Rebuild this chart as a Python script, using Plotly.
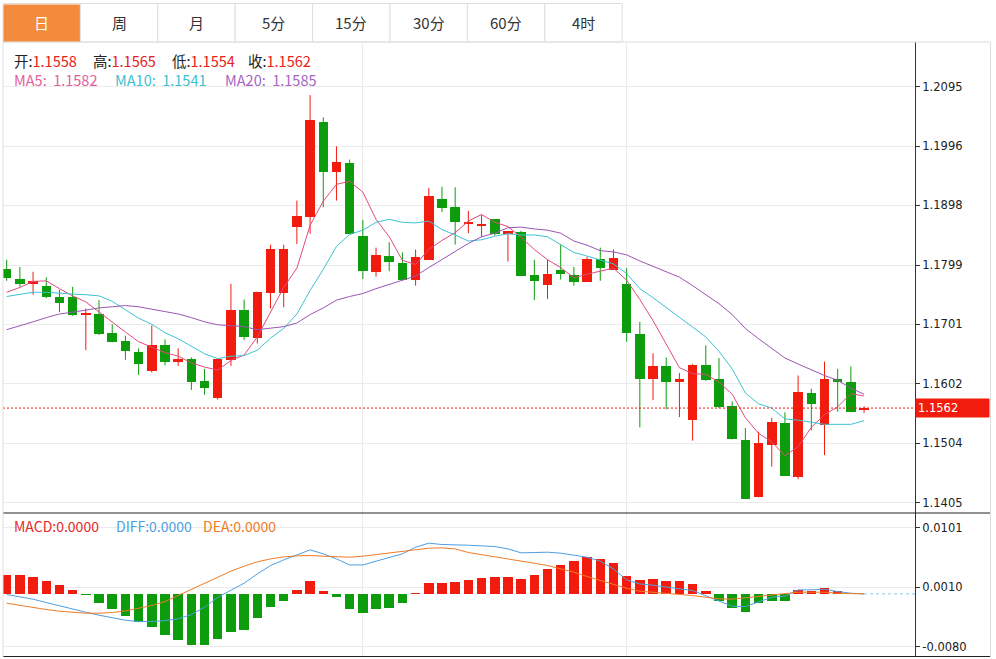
import plotly.graph_objects as go

# ---------------- data ----------------
tabs = ["日", "周", "月", "5分", "15分", "30分", "60分", "4时"]
active_tab = 0

opens = [1.1792, 1.1776, 1.1767, 1.1765, 1.1746, 1.1746, 1.1716, 1.1718, 1.1687, 1.1673,
         1.1655, 1.1623, 1.1666, 1.1638, 1.1643, 1.1607, 1.1579, 1.1642, 1.1724, 1.1679,
         1.1752, 1.1752, 1.1862, 1.1878, 1.2036, 1.1953, 1.1968, 1.1848, 1.1788, 1.1814,
         1.1802, 1.1775, 1.1808, 1.1909, 1.1895, 1.1868, 1.1864, 1.1875, 1.1850, 1.1854,
         1.1782, 1.1766, 1.1791, 1.1782, 1.1771, 1.1809, 1.1791, 1.1768, 1.1684, 1.1611,
         1.1632, 1.1606, 1.1543, 1.1634, 1.1610, 1.1566, 1.1509, 1.1415, 1.1501, 1.1538,
         1.1448, 1.1587, 1.1534, 1.1610, 1.1606, 1.1558]
highs = [1.1808, 1.1796, 1.1788, 1.1779, 1.1758, 1.1763, 1.1727, 1.1741, 1.1701, 1.1682,
         1.1661, 1.1699, 1.1676, 1.1661, 1.1646, 1.1627, 1.1645, 1.1768, 1.1742, 1.1755,
         1.1833, 1.1833, 1.1906, 1.2081, 1.2044, 1.1996, 1.1974, 1.1874, 1.1828, 1.1837,
         1.1820, 1.1825, 1.1927, 1.1929, 1.1928, 1.1889, 1.1882, 1.1875, 1.1855, 1.1856,
         1.1808, 1.1808, 1.1833, 1.1796, 1.1813, 1.1828, 1.1825, 1.1794, 1.1705, 1.1653,
         1.1646, 1.1620, 1.1635, 1.1666, 1.1645, 1.1573, 1.1529, 1.1523, 1.1546, 1.1555,
         1.1616, 1.1594, 1.1639, 1.1627, 1.1631, 1.1565]
lows = [1.1773, 1.1763, 1.1750, 1.1744, 1.1721, 1.1715, 1.1658, 1.1683, 1.1671, 1.1642,
        1.1617, 1.1621, 1.1633, 1.1632, 1.1592, 1.1584, 1.1576, 1.1632, 1.1675, 1.1669,
        1.1727, 1.1729, 1.1834, 1.1851, 1.1895, 1.1906, 1.1850, 1.1776, 1.1780, 1.1789,
        1.1774, 1.1765, 1.1808, 1.1887, 1.1833, 1.1852, 1.1846, 1.1848, 1.1805, 1.1781,
        1.1741, 1.1743, 1.1775, 1.1765, 1.1771, 1.1773, 1.1791, 1.1672, 1.1530, 1.1575,
        1.1560, 1.1547, 1.1508, 1.1607, 1.1562, 1.1510, 1.1411, 1.1414, 1.1465, 1.1449,
        1.1444, 1.1525, 1.1484, 1.1556, 1.1555, 1.1554]
closes = [1.1777, 1.1768, 1.1772, 1.1746, 1.1737, 1.1716, 1.1720, 1.1685, 1.1672, 1.1657,
          1.1635, 1.1666, 1.1639, 1.1643, 1.1605, 1.1596, 1.1643, 1.1724, 1.1680, 1.1755,
          1.1826, 1.1826, 1.1880, 1.2039, 1.1953, 1.1970, 1.1850, 1.1789, 1.1816, 1.1805,
          1.1775, 1.1813, 1.1914, 1.1893, 1.1870, 1.1871, 1.1867, 1.1850, 1.1855, 1.1781,
          1.1772, 1.1785, 1.1784, 1.1771, 1.1809, 1.1795, 1.1811, 1.1686, 1.1611, 1.1632,
          1.1606, 1.1611, 1.1634, 1.1608, 1.1564, 1.1510, 1.1412, 1.1504, 1.1539, 1.1449,
          1.1588, 1.1569, 1.1610, 1.1605, 1.1556, 1.1562]

ma5 = [1.1754, 1.1762, 1.1772, 1.1773, 1.1760, 1.1748, 1.1738, 1.1721, 1.1704, 1.1688,
       1.1672, 1.1663, 1.1654, 1.1648, 1.1637, 1.1630, 1.1625, 1.1641, 1.1650, 1.1680,
       1.1722, 1.1762, 1.1794, 1.1865, 1.1905, 1.1933, 1.1938, 1.1920, 1.1875, 1.1846,
       1.1807, 1.1800, 1.1825, 1.1840, 1.1853, 1.1872, 1.1883, 1.1870, 1.1863, 1.1845,
       1.1825, 1.1808, 1.1795, 1.1778, 1.1784, 1.1789, 1.1794, 1.1774, 1.1742, 1.1707,
       1.1669, 1.1629, 1.1619, 1.1618, 1.1605, 1.1585, 1.1546, 1.1520, 1.1506, 1.1483,
       1.1498, 1.1530, 1.1551, 1.1564, 1.1586, 1.1582]
ma10 = [1.1747, 1.1751, 1.1754, 1.1754, 1.1752, 1.1751, 1.1750, 1.1748, 1.1739, 1.1725,
        1.1711, 1.1701, 1.1687, 1.1677, 1.1664, 1.1652, 1.1644, 1.1648, 1.1649, 1.1658,
        1.1678, 1.1694, 1.1718, 1.1757, 1.1792, 1.1830, 1.1850, 1.1857, 1.1870, 1.1875,
        1.1870, 1.1869, 1.1872, 1.1858, 1.1849, 1.1839, 1.1841, 1.1847, 1.1851, 1.1849,
        1.1849, 1.1846, 1.1833, 1.1820, 1.1814, 1.1807, 1.1801, 1.1785, 1.1760, 1.1745,
        1.1729, 1.1712, 1.1697, 1.1680, 1.1656, 1.1627, 1.1587, 1.1569, 1.1562, 1.1544,
        1.1542, 1.1538, 1.1535, 1.1535, 1.1535, 1.1541]
ma20 = [1.1692, 1.1698, 1.1705, 1.1712, 1.1718, 1.1721, 1.1725, 1.1728, 1.1730, 1.1732,
        1.1730, 1.1726, 1.1722, 1.1718, 1.1712, 1.1705, 1.1700, 1.1698, 1.1697, 1.1692,
        1.1694, 1.1697, 1.1703, 1.1717, 1.1728, 1.1741, 1.1747, 1.1752, 1.1760, 1.1767,
        1.1774, 1.1781, 1.1795, 1.1808, 1.1821, 1.1835, 1.1846, 1.1852, 1.1861, 1.1862,
        1.1859, 1.1857, 1.1852, 1.1839, 1.1832, 1.1823, 1.1821, 1.1816, 1.1806, 1.1797,
        1.1789, 1.1779, 1.1765, 1.1750, 1.1735, 1.1717, 1.1694, 1.1677, 1.1661, 1.1645,
        1.1635, 1.1625, 1.1616, 1.1608, 1.1595, 1.1585]

macd = [0.00294, 0.00284, 0.00254, 0.00193, 0.00137, 0.00061, -0.00010, -0.00132, -0.00233, -0.00335,
        -0.00421, -0.00497, -0.00619, -0.00705, -0.00781, -0.00781, -0.00684, -0.00583, -0.00542, -0.00360,
        -0.00203, -0.00101, 0.00066, 0.00193, 0.00041, -0.00051, -0.00233, -0.00284, -0.00233, -0.00208,
        -0.00142, 0.00010, 0.00162, 0.00167, 0.00183, 0.00218, 0.00248, 0.00259, 0.00264, 0.00233,
        0.00294, 0.00380, 0.00446, 0.00502, 0.00568, 0.00537, 0.00466, 0.00279, 0.00208, 0.00228,
        0.00198, 0.00193, 0.00157, 0.00041, -0.00101, -0.00218, -0.00274, -0.00142, -0.00112, -0.00112,
        0.00061, 0.00051, 0.00096, 0.00051, 0.00010, 0.0]
diff = [-0.00010, -0.00041, -0.00081, -0.00132, -0.00183, -0.00233, -0.00279, -0.00324, -0.00365, -0.00401,
        -0.00421, -0.00421, -0.00406, -0.00380, -0.00314, -0.00203, -0.00051, 0.00061, 0.00162, 0.00304,
        0.00430, 0.00517, 0.00598, 0.00669, 0.00609, 0.00532, 0.00440, 0.00440, 0.00497, 0.00548,
        0.00609, 0.00710, 0.00771, 0.00751, 0.00740, 0.00740, 0.00730, 0.00720, 0.00684, 0.00624,
        0.00629, 0.00634, 0.00619, 0.00593, 0.00558, 0.00497, 0.00380, 0.00213, 0.00152, 0.00132,
        0.00101, 0.00076, 0.00051, -0.00025, -0.00101, -0.00188, -0.00193, -0.00127, -0.00051, -0.00035,
        0.00061, 0.00061, 0.00071, 0.00035, 0.00010, 0.0]
dea = [-0.00142, -0.00177, -0.00208, -0.00238, -0.00264, -0.00279, -0.00294, -0.00294, -0.00284, -0.00259,
       -0.00223, -0.00177, -0.00117, -0.00025, 0.00061, 0.00162, 0.00254, 0.00345, 0.00421, 0.00487,
       0.00532, 0.00563, 0.00578, 0.00583, 0.00573, 0.00563, 0.00558, 0.00573, 0.00598, 0.00624,
       0.00649, 0.00674, 0.00695, 0.00700, 0.00684, 0.00629, 0.00598, 0.00568, 0.00532, 0.00497,
       0.00466, 0.00431, 0.00380, 0.00330, 0.00264, 0.00203, 0.00152, 0.00086, 0.00041, 0.00025,
       0.00010, -0.00010, -0.00025, -0.00051, -0.00076, -0.00081, -0.00061, -0.00041, -0.00025, 0.0,
       0.00025, 0.00025, 0.00025, 0.00010, 0.0, 0.0]

month_starts = [27, 47]
price_ticks = [1.1405, 1.1504, 1.1602, 1.1701, 1.1799, 1.1898, 1.1996, 1.2095]
macd_ticks = [-0.0080, 0.0010, 0.0101]

# ---------------- style ----------------
W, H = 996, 659
L, R, T, B = 3, 81, 42, 2          # plot area 3..915 x 42..657
PW, PH = W - L - R, H - T - B
SPLIT_Y = 513                      # pixel row between price and MACD panes

RED = "#f21c0e"
GREEN = "#0c9c0c"
C_MA5 = "#e4497f"
C_MA10 = "#3dc3d3"
C_MA20 = "#9b55b3"
C_DIFF = "#4e9fe2"
C_DEA = "#f07b26"
ORANGE_TAB = "#f28c3c"
GRID = "#ebebeb"
BORDER = "#dedede"
CJK = "Noto Sans CJK SC, Microsoft YaHei, sans-serif"
NUMF = "DejaVu Sans, Verdana, sans-serif"


def pxx(x):
    return (x - L) / PW


def pxy(y):
    return (H - B - y) / PH


n = len(closes)
idx = list(range(n))
x_range = [-0.28, 68.86]
body_w = 0.72

up = [i for i in idx if closes[i] >= opens[i]]
dn = [i for i in idx if closes[i] < opens[i]]


def wick_xy(ids):
    xs, ys = [], []
    for i in ids:
        xs += [i, i, None]
        ys += [lows[i], highs[i], None]
    return xs, ys


fig = go.Figure()

for ids, col in ((up, RED), (dn, GREEN)):
    wx, wy = wick_xy(ids)
    fig.add_trace(go.Scatter(x=wx, y=wy, mode="lines", line=dict(color=col, width=1),
                             hoverinfo="skip", xaxis="x", yaxis="y"))
    fig.add_trace(go.Bar(x=ids,
                         y=[abs(closes[i] - opens[i]) for i in ids],
                         base=[min(closes[i], opens[i]) for i in ids],
                         width=body_w, marker=dict(color=col, line=dict(width=0)),
                         xaxis="x", yaxis="y"))

for vals, col in ((ma5, C_MA5), (ma10, C_MA10), (ma20, C_MA20)):
    fig.add_trace(go.Scatter(x=idx, y=vals, mode="lines", line=dict(color=col, width=1),
                             xaxis="x", yaxis="y"))

fig.add_trace(go.Bar(x=idx, y=macd, width=body_w,
                     marker=dict(color=[RED if v >= 0 else GREEN for v in macd], line=dict(width=0)),
                     xaxis="x2", yaxis="y2"))
fig.add_trace(go.Scatter(x=idx, y=diff, mode="lines", line=dict(color=C_DIFF, width=1),
                         xaxis="x2", yaxis="y2"))
fig.add_trace(go.Scatter(x=idx, y=dea, mode="lines", line=dict(color=C_DEA, width=1),
                         xaxis="x2", yaxis="y2"))

split = pxy(SPLIT_Y)

shapes = []
# current price dotted line
shapes.append(dict(type="line", xref="paper", yref="y", x0=0, x1=1,
                   y0=closes[-1], y1=closes[-1], line=dict(color=RED, width=1, dash="2px,2px")))
# MACD last value dashed extension
shapes.append(dict(type="line", xref="x2", yref="y2", x0=idx[-1], x1=x_range[1],
                   y0=diff[-1], y1=diff[-1], line=dict(color="#8cc4ee", width=1, dash="3px,3px")))
# frame lines
shapes.append(dict(type="line", xref="paper", yref="paper", x0=0, x1=pxx(990), y0=split, y1=split,
                   line=dict(color="#222", width=1)))
shapes.append(dict(type="line", xref="paper", yref="paper", x0=0, x1=pxx(990), y0=pxy(656.5), y1=pxy(656.5),
                   line=dict(color="#222", width=1)))
shapes.append(dict(type="line", xref="paper", yref="paper", x0=0, x1=pxx(990), y0=1, y1=1,
                   line=dict(color=BORDER, width=1)))
shapes.append(dict(type="line", xref="paper", yref="paper", x0=0, x1=0, y0=0, y1=1,
                   line=dict(color=BORDER, width=1)))
shapes.append(dict(type="line", xref="paper", yref="paper", x0=pxx(990.5), x1=pxx(990.5), y0=0, y1=1,
                   line=dict(color=BORDER, width=1)))

# tab bar
TAB_W = 77.4
annotations = []
for k, name in enumerate(tabs):
    x0 = L + TAB_W * k
    x1 = x0 + TAB_W
    shapes.append(dict(type="rect", xref="paper", yref="paper", x0=pxx(x0), x1=pxx(x1),
                       y0=pxy(42), y1=pxy(3.5), line=dict(color=BORDER, width=1), fillcolor="white",
                       layer="below"))
    if k == active_tab:
        shapes.append(dict(type="rect", xref="paper", yref="paper", x0=pxx(x0 + 0.5), x1=pxx(x1 - 0.5),
                           y0=pxy(41.5), y1=pxy(4.5), line=dict(width=0), fillcolor=ORANGE_TAB))
    annotations.append(dict(xref="paper", yref="paper", x=pxx((x0 + x1) / 2), y=pxy(23),
                            text=name, showarrow=False, xanchor="center", yanchor="middle",
                            font=dict(family=CJK, size=15, color="white" if k == active_tab else "#333")))

# OHLC legend
LBL = "#222"
VRED = "#e8201a"
for (lab, val), xp in zip((("开", opens[-1]), ("高", highs[-1]), ("低", lows[-1]), ("收", closes[-1])),
                          (12, 91, 170, 246)):
    annotations.append(dict(xref="paper", yref="paper", x=pxx(xp), y=pxy(60), xanchor="left",
                            yanchor="middle", showarrow=False,
                            text=f"{lab}:<span style='color:{VRED}'>{val:.4f}</span>",
                            font=dict(family=CJK, size=14.5, color=LBL)))
for (lab, vals, col), xp in zip((("MA5", ma5, "#e4609a"), ("MA10", ma10, "#3cbfd0"), ("MA20", ma20, "#a466c0")),
                                (12, 113, 223)):
    annotations.append(dict(xref="paper", yref="paper", x=pxx(xp), y=pxy(80), xanchor="left",
                            yanchor="middle", showarrow=False,
                            text=f"{lab}:&nbsp;&nbsp;{vals[-1]:.4f}",
                            font=dict(family=CJK, size=14.5, color=col)))
for (lab, vals, col), xp in zip((("MACD", macd, "#e62a2a"), ("DIFF", diff, C_DIFF), ("DEA", dea, C_DEA)),
                                (12, 114, 201)):
    annotations.append(dict(xref="paper", yref="paper", x=pxx(xp), y=pxy(525.5), xanchor="left",
                            yanchor="middle", showarrow=False,
                            text=f"{lab}:{abs(vals[-1]) if vals[-1] == 0 else vals[-1]:.4f}",
                            font=dict(family=CJK, size=14, color=col)))

# current price tag
annotations.append(dict(xref="paper", yref="y", x=1, y=closes[-1], xanchor="left", yanchor="middle",
                        showarrow=False, text=f"{closes[-1]:.4f}", bgcolor=RED, borderpad=2,
                        width=69, height=14, align="left",
                        font=dict(family=NUMF, size=11.5, color="white")))

axis_common = dict(range=x_range, showticklabels=False, tickvals=month_starts, showgrid=True,
                   gridcolor=GRID, zeroline=False, showline=False, ticks="", fixedrange=True)

fig.update_layout(
    width=W, height=H,
    margin=dict(l=L, r=R, t=T, b=B, pad=0),
    paper_bgcolor="white", plot_bgcolor="white",
    showlegend=False, barmode="overlay", bargap=0,
    hovermode=False,
    xaxis=dict(domain=[0, 1], anchor="y", **axis_common),
    xaxis2=dict(domain=[0, 1], anchor="y2", matches="x", **axis_common),
    yaxis=dict(domain=[split, 1], anchor="x", side="right", range=[1.1388, 1.2169],
               tickvals=price_ticks, ticktext=[f"{v:.4f}" for v in price_ticks],
               ticks="outside", ticklen=4, tickcolor="#333", showline=True, linecolor="#333",
               linewidth=1, showgrid=True, gridcolor=GRID, zeroline=False,
               tickfont=dict(family=NUMF, size=11.5, color="#222"), fixedrange=True),
    yaxis2=dict(domain=[0, split], anchor="x2", side="right", range=[-0.0096, 0.0123],
                tickvals=macd_ticks, ticktext=[f"{v:.4f}" for v in macd_ticks],
                ticks="outside", ticklen=4, tickcolor="#333", showline=True, linecolor="#333",
                linewidth=1, showgrid=True, gridcolor=GRID, zeroline=False,
                tickfont=dict(family=NUMF, size=11.5, color="#222"), fixedrange=True),
    shapes=shapes,
    annotations=annotations,
)

fig.write_html("out.html", config={"displayModeBar": False, "staticPlot": True},
               post_script="document.body.style.margin='0';document.body.style.overflow='hidden';")
